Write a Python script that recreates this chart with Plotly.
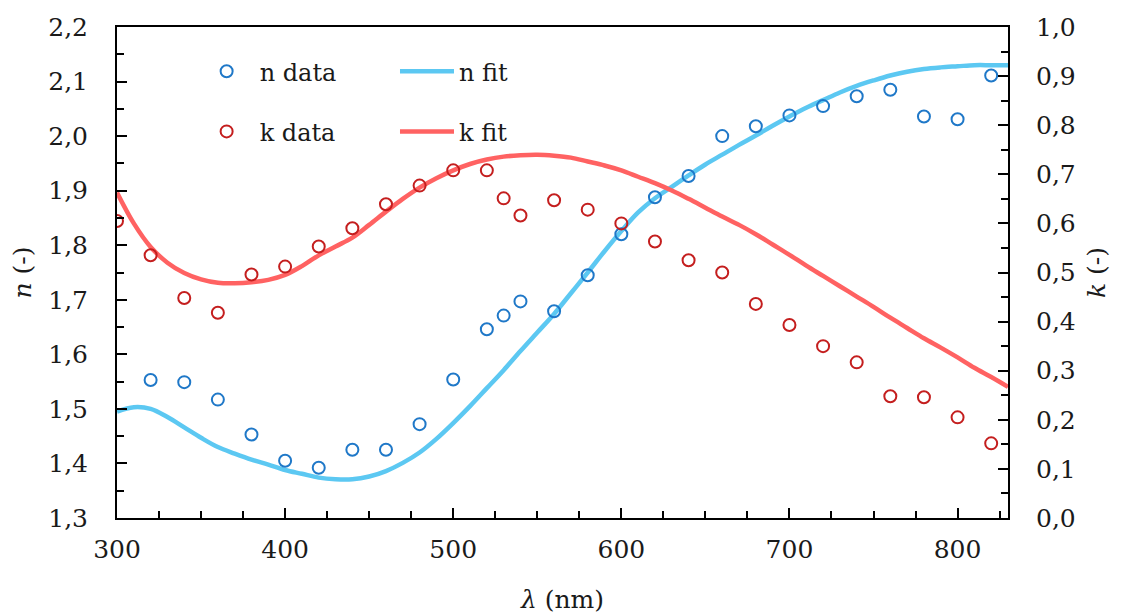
import plotly.graph_objects as go

# ---- data ----
wl_data = [320, 340, 360, 380, 400, 420, 440, 460, 480, 500, 520, 530, 540, 560,
           580, 600, 620, 640, 660, 680, 700, 720, 740, 760, 780, 800, 820]
n_data = [1.553, 1.549, 1.517, 1.453, 1.405, 1.392, 1.425, 1.425, 1.472, 1.554, 1.646,
          1.671, 1.697, 1.679, 1.745, 1.820, 1.888, 1.927, 2.000, 2.018, 2.038, 2.055,
          2.073, 2.085, 2.036, 2.031, 2.111]

wl_k_data = [300, 320, 340, 360, 380, 400, 420, 440, 460, 480, 500, 520, 530, 540, 560,
             580, 600, 620, 640, 660, 680, 700, 720, 740, 760, 780, 800, 820]
k_data = [0.605, 0.535, 0.448, 0.418, 0.496, 0.512, 0.553, 0.590, 0.639, 0.677, 0.708,
          0.708, 0.651, 0.616, 0.647, 0.628, 0.600, 0.563, 0.525, 0.500, 0.436, 0.393,
          0.350, 0.317, 0.248, 0.246, 0.205, 0.152]

wl_fit = [300, 310, 320, 330, 340, 350, 360, 370, 380, 390, 400, 410, 420, 430, 440,
          450, 460, 470, 480, 490, 500, 510, 520, 530, 540, 550, 560, 570, 580, 590,
          600, 610, 620, 630, 640, 650, 660, 670, 680, 690, 700, 710, 720, 730, 740,
          750, 760, 770, 780, 790, 800, 810, 820, 830]
n_fit = [1.495, 1.503, 1.500, 1.485, 1.466, 1.447, 1.430, 1.418, 1.407, 1.398, 1.388,
         1.381, 1.374, 1.371, 1.371, 1.376, 1.386, 1.401, 1.420, 1.445, 1.474, 1.505,
         1.538, 1.571, 1.606, 1.640, 1.674, 1.712, 1.750, 1.789, 1.826, 1.860, 1.886,
         1.907, 1.928, 1.948, 1.966, 1.984, 2.001, 2.019, 2.036, 2.052, 2.066, 2.080,
         2.092, 2.102, 2.111, 2.118, 2.123, 2.126, 2.128, 2.130, 2.130, 2.130]
k_fit = [0.663, 0.600, 0.552, 0.520, 0.499, 0.486, 0.479, 0.478, 0.480, 0.485, 0.495,
         0.513, 0.535, 0.553, 0.571, 0.597, 0.624, 0.650, 0.673, 0.692, 0.708, 0.721,
         0.730, 0.736, 0.739, 0.740, 0.738, 0.734, 0.726, 0.718, 0.708, 0.695, 0.682,
         0.667, 0.650, 0.632, 0.614, 0.597, 0.578, 0.557, 0.536, 0.514, 0.493, 0.472,
         0.451, 0.430, 0.408, 0.387, 0.366, 0.347, 0.327, 0.306, 0.287, 0.267]

FONT = "DejaVu Serif"
FS_TICK = 25
FS_TITLE = 25
FS_LEG = 24
N_FIT_C = "#5CC8F2"
K_FIT_C = "#FF6262"
N_DAT_C = "#1F78C8"
K_DAT_C = "#C41E1E"
TXT = "#1a1a1a"

fig = go.Figure()
fig.add_trace(go.Scatter(x=wl_fit, y=n_fit, mode="lines", name="n fit",
                         line=dict(color=N_FIT_C, width=4.5, shape="spline"),
                         legend="legend2", legendgroup="a"))
fig.add_trace(go.Scatter(x=wl_fit, y=k_fit, mode="lines", name="k fit", yaxis="y2",
                         line=dict(color=K_FIT_C, width=4.5, shape="spline"),
                         legend="legend2", legendgroup="b"))
fig.add_trace(go.Scatter(x=wl_data, y=n_data, mode="markers", name="n data",
                         marker=dict(symbol="circle-open", size=12, color=N_DAT_C,
                                     line=dict(width=2, color=N_DAT_C)),
                         legend="legend", legendgroup="c"))
fig.add_trace(go.Scatter(x=wl_k_data, y=k_data, mode="markers", name="k data", yaxis="y2",
                         marker=dict(symbol="circle-open", size=12, color=K_DAT_C,
                                     line=dict(width=2, color=K_DAT_C)),
                         legend="legend", legendgroup="d"))

axis_common = dict(showline=True, linecolor="black", linewidth=2, ticks="inside",
                   ticklen=10, tickwidth=2, tickcolor="black", showgrid=False,
                   zeroline=False, automargin=False,
                   tickfont=dict(family=FONT, size=FS_TICK, color=TXT))
minor_common = dict(ticks="inside", ticklen=7, tickwidth=2, tickcolor="black")

fig.update_layout(
    width=1121, height=613,
    margin=dict(l=109, r=121, t=19, b=103),
    paper_bgcolor="white", plot_bgcolor="white",
    separators=", ",
    font=dict(family=FONT, size=FS_TICK, color=TXT),
    xaxis=dict(range=[300, 830], dtick=100, tick0=300, mirror=True,
               ticklabelstandoff=8,
               minor=dict(dtick=25, **minor_common),
               title=dict(text="<i>λ</i> (nm)", font=dict(family=FONT, size=FS_TITLE, color=TXT),
                          standoff=27),
               **axis_common),
    yaxis=dict(range=[1.3, 2.2], dtick=0.1, tick0=1.3, tickformat=".1f",
               ticklabelstandoff=22,
               minor=dict(dtick=0.05, **minor_common),
               title=dict(text="<i>n</i> (-)", font=dict(family=FONT, size=FS_TITLE, color=TXT),
                          standoff=10),
               **axis_common),
    yaxis2=dict(range=[0, 1.0], dtick=0.1, tick0=0, tickformat=".1f", overlaying="y",
                side="right", ticklabelstandoff=21,
                minor=dict(dtick=0.05, **minor_common),
                title=dict(text="<i>k</i> (-)", font=dict(family=FONT, size=FS_TITLE, color=TXT),
                           standoff=13),
                **axis_common),
    legend=dict(x=0.086, y=0.955, xanchor="left", yanchor="top", bgcolor="rgba(0,0,0,0)",
                font=dict(family=FONT, size=FS_LEG, color=TXT), tracegroupgap=26,
                itemwidth=56),
    legend2=dict(x=0.312, y=0.955, xanchor="left", yanchor="top", bgcolor="rgba(0,0,0,0)",
                 font=dict(family=FONT, size=FS_LEG, color=TXT), tracegroupgap=26,
                 itemwidth=54),
    showlegend=True,
)

fig.write_html("out.html")
